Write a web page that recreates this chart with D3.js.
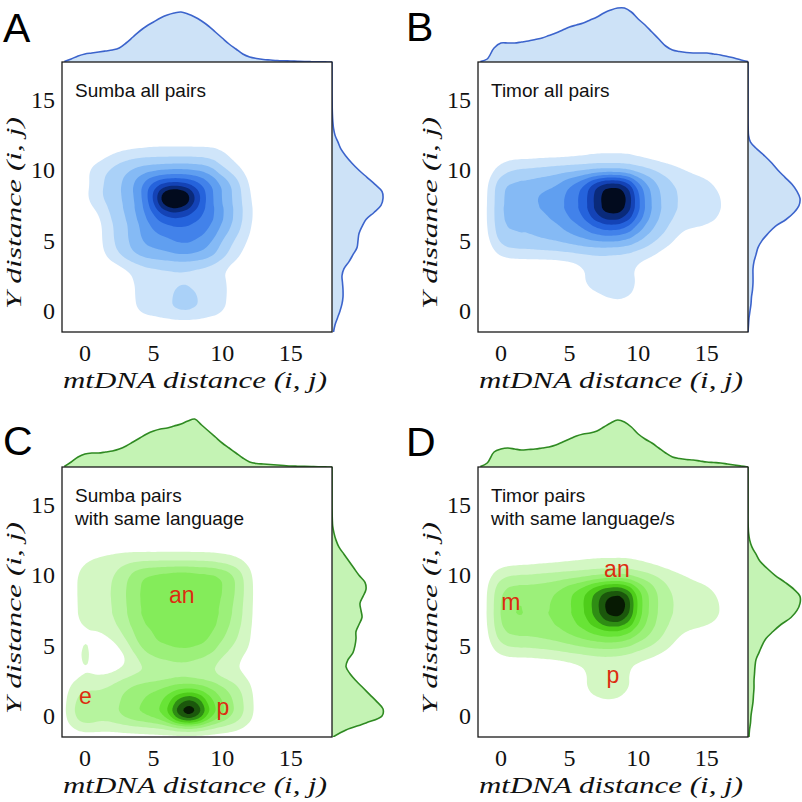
<!DOCTYPE html>
<html><head><meta charset="utf-8">
<script src="https://cdn.jsdelivr.net/npm/d3@7"></script>
<style>body{margin:0;background:#fff}svg{display:block}</style>
</head><body><svg id="chart" width="802" height="802"></svg>
<script>
// ---------- data ----------
const panelIds = ["A", "B", "C", "D"];
const titlesA = ["Sumba all pairs"];
const titlesB = ["Timor all pairs"];
const titlesC = ["Sumba pairs", "with same language"];
const titlesD = ["Timor pairs", "with same language/s"];
const xTicks = [0, 5, 10, 15];
const yTicks = [0, 5, 10, 15];
const xLabel = "mtDNA distance (i, j)";
const yLabel = "Y distance (i, j)";

// KDE grid: columns are mtDNA distance, rows Y distance
const gridX = [-1,0,1,2,3,4,5,6,7,8,9,10,11,12,13,14,15,16];
const gridY = [12,11,10,9,8,7,6,5,4,3,2,1,0,-1];

const densA = [
[0,0,0,0,0.3,0.4,0.6,0.6,0.6,0.6,0.6,0.6,0.2,0,0,0,0,0],
[0,0.2,0.5,1.2,1.6,1.8,1.8,1.8,1.8,1.8,1.7,1.3,0.6,0,0,0,0,0],
[0,0.8,1.6,2.3,2.9,3.5,3.8,4,4.1,4,3.6,2.3,1.4,0.5,0,0,0,0],
[0,0.6,1.7,2.5,3.3,4.8,6.6,7.5,7.5,6.8,5.3,4.1,2.6,0.8,0,0,0,0],
[0,0.8,1.9,2.5,3.3,4.6,7.4,12,12,8.6,5.5,4,2.7,1.1,0,0,0,0],
[0,0.3,0.9,2.3,3,4.4,6,7.5,7.5,6.6,5.4,4.3,2.7,1.3,0,0,0,0],
[0,0,0.6,2,2.8,4,5.3,5.8,6,5.8,5.2,4,2.6,1.1,0,0,0,0],
[0,0,0.6,2,2.8,4,4.5,4.8,5.3,5.1,4.3,3,1.8,0.8,0,0,0,0],
[0,0,0.5,1.6,2.5,3.3,3.6,3.8,4.2,4,3.5,2.5,1.3,0.4,0,0,0,0],
[0,0,0,0.4,0.9,1.6,1.8,1.9,1.9,1.8,1.6,1.1,0.4,0,0,0,0,0],
[0,0,0,0,0.5,1.3,1.5,1.7,2,1.8,1.5,1.3,0.5,0,0,0,0,0],
[0,0,0,0,0.5,1.3,1.5,1.8,2.4,2.2,1.6,1.3,0.5,0,0,0,0,0],
[0,0,0,0,0.4,1.2,1.4,1.8,2.3,2.1,1.5,1.2,0.4,0,0,0,0,0],
[0,0,0,0,0,0.3,0.3,0.3,0.3,0.3,0.3,0.3,0,0,0,0,0,0]
];
const densB = [
[0,0,0,0,0,0,0,0.2,0.3,0.3,0.3,0.2,0,0,0,0,0,0],
[0,0.5,0.6,0.6,0.7,0.7,0.8,0.9,1.1,1.1,1.1,0.9,0.6,0.4,0.2,0,0,0],
[0.4,1.5,2.1,2.3,2.4,2.6,2.7,2.8,2.9,2.9,2.8,2.5,2.1,1.6,1.2,0.8,0.4,0],
[0.7,3,3.2,3.4,3.6,3.9,5,6,8.3,9.2,8.5,5.5,3.5,2.4,1.8,1.6,1.4,0.6],
[0.8,3.1,3.4,3.8,4.4,4.6,5.5,6.5,8.8,10.5,10,6.5,3.8,2.7,1.9,1.7,1.6,1.2],
[0.8,3.1,3.3,3.5,3.9,4.4,5.2,6.2,8.4,9.6,8.8,6.2,3.7,2.6,1.8,1.6,1.5,1.1],
[0.8,3,3.1,3.2,3.4,3.8,4.5,5.2,6.3,6.8,6.3,4.8,3.2,2.2,1.2,1.1,1,0.5],
[0.6,2.5,2.7,2.8,3,3.1,3.4,3.8,4.1,4.2,3.9,3.2,2.2,1.5,0.7,0.3,0,0],
[0.2,1.2,1.4,1.5,1.5,1.6,1.7,1.8,1.9,1.8,1.7,1.5,1.1,0.5,0,0,0,0],
[0,0,0,0,0,0,0.3,0.9,1.4,1.4,1.3,0.8,0.2,0,0,0,0,0],
[0,0,0,0,0,0,0.3,1,1.5,1.5,1.4,1,0.2,0,0,0,0,0],
[0,0,0,0,0,0,0,0.4,0.8,1.2,1.2,0.7,0,0,0,0,0,0],
[0,0,0,0,0,0,0,0,0.1,0.3,0.3,0.1,0,0,0,0,0,0],
[0,0,0,0,0,0,0,0,0,0,0,0,0,0,0,0,0,0]
];
const densC = [
[0,0,0.3,0.5,0.5,0.5,0.5,0.5,0.5,0.5,0.5,0.5,0.4,0,0,0,0,0],
[0.2,1,1.3,1.5,1.8,1.9,1.9,1.9,1.9,1.9,1.8,1.6,1.3,0.7,0,0,0,0],
[0.6,1.5,1.6,1.9,2.8,4,4.4,4.6,4.8,4.6,4.4,4.2,3,1.2,0,0,0,0],
[0.6,1.5,1.6,2,3,4.1,4.4,4.8,5.2,4.8,4.5,4.2,3,1.3,0,0,0,0],
[0.6,1.5,1.6,2,3,4.2,4.4,4.6,4.8,4.9,4.5,4.1,2.8,1.3,0,0,0,0],
[0.6,1.4,1.5,1.9,2.8,4,4.3,4.5,4.8,5.1,4.5,3.8,2.6,1.2,0,0,0,0],
[0.4,0.9,0.9,1.5,2.4,3.6,4.1,4.3,4.5,4.6,4.2,3.5,2.3,1.1,0,0,0,0],
[0.2,1.4,0.3,0.6,1.6,3.2,3.9,4.1,4.3,4.2,3.8,2.8,1.8,1,0,0,0,0],
[0,1.6,0.1,0.1,0.8,2,2.8,3,3.2,3,2.6,1.8,1.1,0.6,0,0,0,0],
[0.6,0.9,0.8,1,1.6,1.9,2,2.2,2.4,2.2,2,1.5,1.1,0.7,0,0,0,0],
[1.2,1.8,1.9,2.3,3,3.5,3.8,4.2,4.6,4.6,4,3.3,2.3,1.2,0,0,0,0],
[1.6,3,2.3,2.6,3.4,4,4.5,5.5,8.5,9,5.6,4.2,2.8,1.4,0,0,0,0],
[1.7,3.2,2.4,2.7,3.5,4.1,4.6,5.8,10,10.3,6,4.3,2.8,1.4,0,0,0,0],
[0.8,1.2,1.1,1.1,1.2,1.3,1.4,1.5,1.6,1.6,1.4,1.2,1,0.5,0,0,0,0]
];
const densD = [
[0,0,0,0,0,0,0.2,0.3,0.4,0.4,0.4,0.3,0,0,0,0,0,0],
[0,0.4,0.5,0.6,0.7,0.8,0.9,1,1.1,1.1,1.1,1,0.7,0.4,0,0,0,0],
[0.6,1.8,2,2.1,2.2,2.3,2.4,2.5,2.7,2.8,2.8,2.5,2.1,1.6,1.2,0.8,0.4,0],
[0.8,3,3.4,3.5,3.6,3.9,4.8,5.6,7.2,8.2,7.8,5.4,3.4,2.2,1.6,1.4,1.3,0.6],
[0.8,3.4,4.2,4,3.9,4.2,5,6,8,10.5,10.3,5.8,3.6,2.4,1.8,1.6,1.5,1.1],
[0.8,3.3,4,3.9,3.8,4.1,4.8,5.6,7.4,9.3,8.6,5.4,3.4,2.2,1.7,1.5,1.4,1],
[0.7,3,3.3,3.4,3.5,3.8,4.3,4.9,5.6,6,5.6,4.4,3,2,1.1,0.9,0.7,0.3],
[0.5,2,2.2,2.3,2.4,2.6,2.9,3.2,3.4,3.5,3.2,2.6,2,1.3,0.6,0.2,0,0],
[0,0.6,0.7,0.7,0.8,0.9,1.1,1.3,1.5,1.5,1.4,1.1,0.8,0.4,0,0,0,0],
[0,0,0,0,0,0,0.3,0.8,1.4,1.4,1.2,0.5,0,0,0,0,0,0],
[0,0,0,0,0,0,0.2,0.9,1.5,1.5,1.3,0.6,0,0,0,0,0,0],
[0,0,0,0,0,0,0,0.4,0.8,1,0.7,0,0,0,0,0,0,0],
[0,0,0,0,0,0,0,0,0,0,0,0,0,0,0,0,0,0],
[0,0,0,0,0,0,0,0,0,0,0,0,0,0,0,0,0,0]
];

// marginal densities (relative)
const margPos = [-1.5,-1,-0.5,0,0.5,1,1.5,2,2.5,3,3.5,4,4.5,5,5.5,6,6.5,7,7.5,8,8.5,9,9.5,10,10.5,11,11.5,12,12.5,13,13.5,14,14.5,15,15.5,16,16.5,17,17.5,18];
const topA = [0.5,3,6,8,9,10,11,12,14,19,25,31,36,40,44,47,49,50,48,45,41,36,30,24,18,13,8,5,3.5,2.5,2,1.5,1.2,1,0.7,0.5,0.3,0.2,0.1,0];
const topB = [0.5,3,14,19,19,19,20,21,22.5,24,26.5,29,32,35,37,39,42,45,49,52,54,54,50,43,37,30,23,16,12,10.5,9.5,9,9,9,8,7,5.5,4,2,0.5];
const topC = [0.5,5,10,13,14,14,15,16,18,21,25,29,33,36,38,39,41,43,46,48,42,36,30,24,19,14,9,5,3.5,3,2.5,2,1.5,1,0.8,0.6,0.4,0.2,0.1,0];
const topD = [0.5,4,15,18,19,18,17,17.5,18,19,20,22,25,28,31,33,34,36,40,44,47,45,40,33,28,24,19,14,10,8.5,7.5,7,6,5,4.5,4,3,2,1,0];
const rightA = [1.5,3,5.5,8,10,11,11,10.5,10,12,17,21,25,26,27,30,34,42,49,51,50,43,35,27,20,14,9,6,3,1.5,0.8,0.4,0.2,0.1,0,0,0,0,0,0];
const rightB = [0,0.5,1,2,3,3.5,4.5,5,5,5,6,8,10,14,20,27,38,46,51,52,49,44,37,30,24,17,9,2.5,0.5,0.2,0,0,0,0,0,0,0,0,0,0];
const rightC = [1,14,34,50,51,45,38,31,24,18,14,16,21,23,24,24,27,30,29,28,31,34,33,27,22,17,12,7,4,2,0.7,0.3,0.1,0,0,0,0,0,0,0];
const rightD = [1,1.5,2.5,3,4,5,5.5,6,6,6.5,7,8,11,14,18,25,33,43,49,52,52,46,37,27,19,12,8,4,1.7,0.6,0.2,0,0,0,0,0,0,0,0,0];

// red group labels (text, mtDNA, Y)
const notesC = [["an", 7.06, 8.0], ["e", 0.04, 0.85], ["p", 10.05, 0.07]];
const notesD = [["an", 8.45, 9.9], ["m", 0.73, 7.55], ["p", 8.16, 2.35]];

// ---------- style ----------
const blueBands = ["#cfe5fa","#aad1f8","#85baf5","#609ff0","#4282ea","#2563dc","#1443b6","#0a2a7a","#020b1e"];
const greenBands = ["#d3f7c3","#b6f49e","#9cf07a","#84ec5a","#68e436","#4ecd1a","#2f8d14","#1b570c","#071a03"];

const BOX = 270;
const panels = [
  {id: panelIds[0], left: 62, top: 62, dens: densA, mt: topA, mr: rightA, bands: blueBands, line: "#3c64cc", fill: "#cde2f7", titles: titlesA, notes: [], letter: [3, 42]},
  {id: panelIds[1], left: 478, top: 62, dens: densB, mt: topB, mr: rightB, bands: blueBands, line: "#3c64cc", fill: "#cde2f7", titles: titlesB, notes: [], letter: [406, 41]},
  {id: panelIds[2], left: 62, top: 467, dens: densC, mt: topC, mr: rightC, bands: greenBands, line: "#2f8a22", fill: "#c4f3b4", titles: titlesC, notes: notesC, letter: [3, 455]},
  {id: panelIds[3], left: 478, top: 467, dens: densD, mt: topD, mr: rightD, bands: greenBands, line: "#2f8a22", fill: "#c4f3b4", titles: titlesD, notes: notesD, letter: [406, 456]}
];

const svg = d3.select("#chart");
const serif = "'Liberation Serif','DejaVu Serif',serif";
const sans = "'Liberation Sans',Arial,Helvetica,sans-serif";
const mScale = d3.scaleLinear().domain([0, 55]).range([0, 55]);
const defs = svg.append("defs");

panels.forEach((p, pi) => {
  const g = svg.append("g").attr("transform", `translate(${p.left},${p.top})`);
  const xs = d3.scaleLinear().domain([-1.67, 18]).range([0, BOX]);
  const ys = d3.scaleLinear().domain([-1.5, 17.7]).range([BOX, 0]);

  const cid = "clip" + pi;
  defs.append("clipPath").attr("id", cid).append("rect").attr("width", BOX).attr("height", BOX);
  defs.append("clipPath").attr("id", cid + "t").append("rect").attr("x", 0).attr("y", -80).attr("width", BOX).attr("height", 80);
  defs.append("clipPath").attr("id", cid + "r").append("rect").attr("x", BOX).attr("y", 0).attr("width", 80).attr("height", BOX);

  // joint KDE
  const pts = [];
  p.dens.forEach((row, r) => row.forEach((w, c) => { if (w > 0) pts.push([gridX[c], gridY[r], w]); }));
  const sx = xs(1) - xs(0), sy = ys(0) - ys(1);
  const cf = d3.contourDensity()
    .x(d => xs(d[0])).y(d => ys(d[1])).weight(d => d[2])
    .size([BOX, BOX]).cellSize(2).bandwidth(7)
    .contours(pts);
  const kde = g.append("g").attr("clip-path", `url(#${cid})`);
  p.bands.forEach((col, k) => {
    const th = (k + 1) / (sx * sy);
    kde.append("path").attr("d", d3.geoPath()(cf(th))).attr("fill", col);
  });

  const curveX = d3.curveCatmullRom.alpha(0.5);
  // top marginal
  const topData = margPos.map((x, i) => [x, p.mt[i]]);
  const tg = g.append("g").attr("clip-path", `url(#${cid}t)`);
  tg.append("path").datum(topData)
    .attr("d", d3.area().curve(curveX).x(d => xs(d[0])).y0(0).y1(d => -mScale(d[1])))
    .attr("fill", p.fill);
  tg.append("path").datum(topData)
    .attr("d", d3.line().curve(curveX).x(d => xs(d[0])).y(d => -mScale(d[1])))
    .attr("fill", "none").attr("stroke", p.line).attr("stroke-width", 1.6);

  // right marginal
  const rData = margPos.map((y, i) => [y, p.mr[i]]);
  const rg = g.append("g").attr("clip-path", `url(#${cid}r)`);
  rg.append("path").datum(rData)
    .attr("d", d3.area().curve(curveX).y(d => ys(d[0])).x0(BOX).x1(d => BOX + mScale(d[1])))
    .attr("fill", p.fill);
  rg.append("path").datum(rData)
    .attr("d", d3.line().curve(curveX).y(d => ys(d[0])).x(d => BOX + mScale(d[1])))
    .attr("fill", "none").attr("stroke", p.line).attr("stroke-width", 1.6);

  // frame
  g.append("rect").attr("width", BOX).attr("height", BOX)
    .attr("fill", "none").attr("stroke", "#1a1a1a").attr("stroke-width", 1.3);

  // ticks
  g.selectAll(".xt").data(xTicks).enter().append("text")
    .attr("x", d => xs(d)).attr("y", BOX + 29)
    .attr("text-anchor", "middle").attr("font-family", serif).attr("font-size", 24).attr("fill", "#111")
    .text(d => d);
  g.selectAll(".yt").data(yTicks).enter().append("text")
    .attr("x", -7).attr("y", d => ys(d) + 8)
    .attr("text-anchor", "end").attr("font-family", serif).attr("font-size", 24).attr("fill", "#111")
    .text(d => d);

  // axis labels
  g.append("text").attr("x", BOX / 2 - 2).attr("y", BOX + 56)
    .attr("text-anchor", "middle").attr("font-family", serif).attr("font-style", "italic")
    .attr("font-size", 24).attr("fill", "#111")
    .attr("textLength", 264).attr("lengthAdjust", "spacingAndGlyphs")
    .text(xLabel);

  g.append("text").attr("transform", `translate(-41,151) rotate(-90)`)
    .attr("text-anchor", "middle").attr("font-family", serif).attr("font-style", "italic")
    .attr("font-size", 22).attr("fill", "#111")
    .attr("textLength", 192).attr("lengthAdjust", "spacingAndGlyphs")
    .text(yLabel);

  // title inside box
  p.titles.forEach((t, i) => {
    g.append("text").attr("x", 13).attr("y", 35 + i * 23)
      .attr("font-family", sans).attr("font-size", 19).attr("fill", "#111").text(t);
  });

  // red notes
  p.notes.forEach(n => {
    g.append("text").attr("x", xs(n[1])).attr("y", ys(n[2]))
      .attr("text-anchor", "middle").attr("font-family", sans).attr("font-size", 23)
      .attr("fill", "#dd2c10").text(n[0]);
  });

  // panel letter
  svg.append("text").attr("x", p.letter[0]).attr("y", p.letter[1])
    .attr("font-family", sans).attr("font-size", 41).attr("fill", "#000").text(p.id);
});
</script>
</body></html>
